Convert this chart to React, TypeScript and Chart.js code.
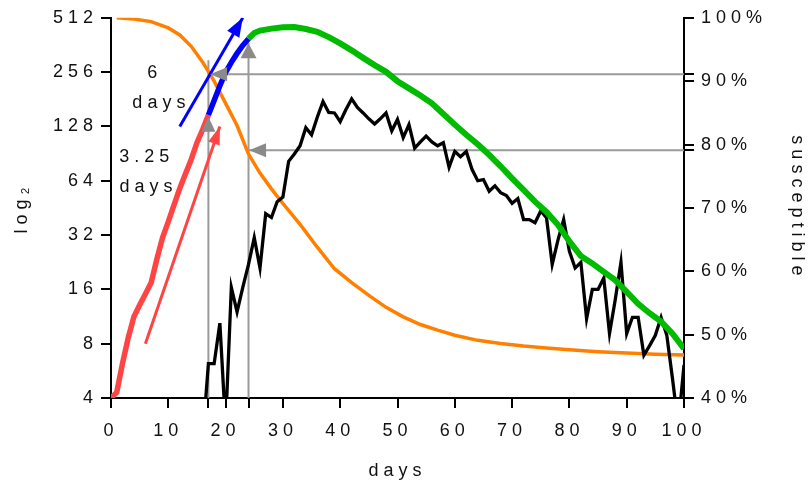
import React, { useEffect, useRef } from 'react';
import { Chart, registerables } from 'chart.js';

Chart.register(...registerables);

// ---- axes ----
const xTickValues = [0, 10, 20, 30, 40, 50, 60, 70, 80, 90, 100];
const markerDays = [17, 24];
const leftTickValues = [4, 8, 16, 32, 64, 128, 256, 512];
const rightTickValues = [40, 50, 60, 70, 80, 90, 100];
const markerSusceptible = [91.1, 79.1];

// ---- cases (log2 axis) ----
const redDays = [0, 1, 2, 3, 4, 5, 6, 7, 8, 9, 10, 11, 12, 13, 14, 15, 16, 17];
const redValues = [4, 4.3, 6.2, 8.6, 11.3, 13.1, 15.1, 17.4, 23.5, 31, 38, 47, 58, 70, 84, 104, 123, 148];

const blueDays = [17, 18, 19, 20, 21, 22, 23, 24];
const blueValues = [148, 178, 215, 255, 290, 325, 360, 392];

const greenDays = [24, 25, 26, 28, 30, 32, 34, 36, 38, 40, 42, 44, 46, 48, 50, 52, 54, 56, 58, 60, 62, 64, 66, 68, 70, 72, 74, 76, 78, 80, 82, 84, 86, 88, 90, 92, 94, 96, 98, 100];
const greenValues = [392, 422, 435, 446, 454, 455, 444, 428, 400, 369, 338, 307, 280, 257, 228, 208, 190, 172, 150, 131, 115, 102, 89, 77, 66, 57, 49, 43, 36.5, 29.5, 24.5, 22.3, 20, 18, 15.5, 13.3, 11.8, 10.6, 9.1, 7.5];

const blackDays = [16, 17, 18, 19, 20, 21, 22, 23, 24, 25, 26, 27, 28, 29, 30, 31, 32, 33, 34, 35, 36, 37, 38, 39, 40, 41, 42, 43, 44, 45, 46, 47, 48, 49, 50, 51, 52, 53, 54, 55, 56, 57, 58, 59, 60, 61, 62, 63, 64, 65, 66, 67, 68, 69, 70, 71, 72, 73, 74, 75, 76, 77, 78, 79, 80, 81, 82, 83, 84, 85, 86, 87, 88, 89, 90, 91, 92, 93, 94, 95, 96, 97, 98, 99, 100];
const blackValues = [2.4, 6.2, 6.2, 10.4, 2.8, 16.4, 12, 16.4, 22, 31, 21, 42, 40, 49, 52, 82, 90, 100, 126, 115, 144, 176, 153, 152, 136, 159, 182, 163, 152, 141, 132, 141, 152, 121, 140, 111, 131, 97, 105, 113, 105, 100, 104, 76, 93, 87, 93, 74, 64, 65, 56, 60, 55, 53, 48, 51, 39, 39, 37.5, 43.5, 40, 22, 30, 39, 26, 21, 22.6, 11, 16, 16, 18.5, 9.1, 14, 22.6, 9.1, 11.2, 11.2, 6.9, 7.8, 8.9, 11.2, 8.9, 5.1, 2.8, 6.1];

// ---- susceptible (percent axis) ----
const orangeDays = [1, 4, 7, 10, 12, 14, 16, 18, 20, 22, 24, 26, 28, 30, 33, 36, 39, 42, 45, 48, 51, 54, 57, 60, 64, 68, 72, 76, 80, 85, 90, 95, 100];
const orangeValues = [100, 99.8, 99.4, 98.4, 97.3, 95.5, 93, 90, 86.5, 83, 78.5, 75.5, 73, 70.7, 67.4, 63.8, 60.4, 58.2, 56.2, 54.3, 52.8, 51.6, 50.7, 49.9, 49.1, 48.6, 48.2, 47.9, 47.6, 47.3, 47.1, 46.9, 46.8];

// ---- doubling-time arrows ----
const redArrowDays = [6, 19];
const redArrowValues = [8, 128];
const blueArrowDays = [12, 23];
const blueArrowValues = [128, 512];

// ---- gray guide lines ----
const grayVerticalTops = [298, 370];
const grayUpTips = [145, 370];
const grayLeftTips = [17.3, 24.1];

// ---- annotation labels ----
const noteTexts = ['6', 'days', '3.25', 'days'];
const noteDays = [6.33, 3.73, 1.43, 1.47];
const noteValues = [237, 162, 81.6, 55.7];

const RED = '#ff4444';
const BLUE = '#0000ff';
const GREEN = '#00bb00';
const ORANGE = '#ff8000';
const GRAY_LINE = '#9a9a9a';
const GRAY_HEAD = '#8a8a8a';
const TEXT = '#111111';
const FONT = "'Liberation Sans', Arial, sans-serif";
const SPACING = '5px';

const pts = (xs: number[], ys: number[]) => xs.map((x, i) => ({ x, y: ys[i] }));

const arrowHeads = [
  { from: [redArrowDays[0], redArrowValues[0]], to: [redArrowDays[1], redArrowValues[1]], axis: 'y', color: RED, len: 18, half: 6 },
  { from: [blueArrowDays[0], blueArrowValues[0]], to: [blueArrowDays[1], blueArrowValues[1]], axis: 'y', color: BLUE, len: 19, half: 7 },
  { from: [markerDays[0], 4], to: [markerDays[0], grayUpTips[0]], axis: 'y', color: GRAY_HEAD, len: 15, half: 7 },
  { from: [markerDays[1], 4], to: [markerDays[1], grayUpTips[1]], axis: 'y', color: GRAY_HEAD, len: 15, half: 8 },
  { from: [100, markerSusceptible[0]], to: [grayLeftTips[0], markerSusceptible[0]], axis: 'y1', color: GRAY_HEAD, len: 17, half: 7 },
  { from: [100, markerSusceptible[1]], to: [grayLeftTips[1], markerSusceptible[1]], axis: 'y1', color: GRAY_HEAD, len: 17, half: 7 },
];

const spacingPlugin = {
  id: 'spacing',
  beforeLayout(chart: any) { (chart.ctx as any).letterSpacing = SPACING; },
  beforeDraw(chart: any) { (chart.ctx as any).letterSpacing = SPACING; },
};

const arrowPlugin = {
  id: 'arrowHeads',
  afterDatasetsDraw(chart: any) {
    const ctx = chart.ctx;
    const xs = chart.scales.x;
    ctx.save();
    for (const a of arrowHeads) {
      const ys = chart.scales[a.axis];
      const tx = xs.getPixelForValue(a.to[0]);
      const ty = ys.getPixelForValue(a.to[1]);
      const fx = xs.getPixelForValue(a.from[0]);
      const fy = ys.getPixelForValue(a.from[1]);
      const ang = Math.atan2(ty - fy, tx - fx);
      const bx = tx - Math.cos(ang) * a.len;
      const by = ty - Math.sin(ang) * a.len;
      const px = -Math.sin(ang) * a.half;
      const py = Math.cos(ang) * a.half;
      ctx.beginPath();
      ctx.moveTo(tx, ty);
      ctx.lineTo(bx + px, by + py);
      ctx.lineTo(bx - px, by - py);
      ctx.closePath();
      ctx.fillStyle = a.color;
      ctx.fill();
    }
    ctx.restore();
  },
  afterDraw(chart: any) {
    const ctx = chart.ctx;
    const xs = chart.scales.x;
    const ys = chart.scales.y;
    ctx.save();
    (ctx as any).letterSpacing = SPACING;
    ctx.font = `18px ${FONT}`;
    ctx.fillStyle = TEXT;
    ctx.textAlign = 'left';
    ctx.textBaseline = 'alphabetic';
    noteTexts.forEach((t, i) => {
      ctx.fillText(t, xs.getPixelForValue(noteDays[i]), ys.getPixelForValue(noteValues[i]));
    });
    ctx.restore();
  },
};

const line = (data: any[], color: string, width: number, axis: string, order: number) => ({
  data,
  borderColor: color,
  backgroundColor: color,
  borderWidth: width,
  pointRadius: 0,
  pointHoverRadius: 0,
  tension: 0,
  fill: false,
  yAxisID: axis,
  order,
});

const axisGrid = { drawOnChartArea: false, drawTicks: true, tickLength: 10, color: '#000', lineWidth: 2 };
const axisBorder = { display: true, color: '#000', width: 2 };

export default function App() {
  const ref = useRef<HTMLCanvasElement>(null);
  useEffect(() => {
    document.body.style.margin = '0';
    Chart.defaults.font.family = FONT;
    Chart.defaults.font.size = 18;
    Chart.defaults.color = TEXT;
    const chart = new Chart(ref.current as HTMLCanvasElement, {
      type: 'line',
      data: {
        datasets: [
          line(pts([markerDays[0], markerDays[0]], [4, grayVerticalTops[0]]), GRAY_LINE, 2, 'y', 20),
          line(pts([markerDays[1], markerDays[1]], [4, grayVerticalTops[1]]), GRAY_LINE, 2, 'y', 20),
          line(pts([grayLeftTips[0], 100], [markerSusceptible[0], markerSusceptible[0]]), GRAY_LINE, 2, 'y1', 20),
          line(pts([grayLeftTips[1], 100], [markerSusceptible[1], markerSusceptible[1]]), GRAY_LINE, 2, 'y1', 20),
          line(pts(orangeDays, orangeValues), ORANGE, 3.5, 'y1', 10),
          line(pts(blackDays, blackValues), '#000', 3.3, 'y', 9),
          line(pts(greenDays, greenValues), GREEN, 6, 'y', 8),
          line(pts(redDays, redValues), RED, 5.5, 'y', 7),
          line(pts(blueDays, blueValues), BLUE, 5.5, 'y', 6),
          line(pts(redArrowDays, redArrowValues), RED, 3, 'y', 5),
          line(pts(blueArrowDays, blueArrowValues), BLUE, 3, 'y', 5),
        ] as any,
      },
      options: {
        responsive: false,
        animation: false,
        devicePixelRatio: 1,
        layout: { padding: { top: 14, left: 0, right: 0, bottom: 0 } },
        plugins: { legend: { display: false }, tooltip: { enabled: false } },
        events: [],
        scales: {
          x: {
            type: 'linear',
            min: 0,
            max: 100,
            grid: axisGrid,
            border: axisBorder,
            afterBuildTicks: (s: any) => {
              s.ticks = [...xTickValues, ...markerDays].sort((a, b) => a - b).map((v) => ({ value: v }));
            },
            afterFit: (s: any) => { s.height = 85; },
            ticks: {
              autoSkip: false,
              maxRotation: 0,
              padding: 12,
              callback: (v: any) => (xTickValues.includes(v) ? String(v) : ''),
            },
            title: { display: true, text: 'days', padding: { top: 0, bottom: 1 } },
          },
          y: {
            type: 'logarithmic',
            position: 'left',
            min: 4,
            max: 512,
            grid: axisGrid,
            border: axisBorder,
            afterBuildTicks: (s: any) => {
              s.ticks = leftTickValues.map((v) => ({ value: v }));
            },
            afterFit: (s: any) => { s.width = 111; },
            ticks: { autoSkip: false, padding: 3, callback: (v: any) => String(v) },
            title: { display: true, text: 'log₂', padding: { top: 11, bottom: 0 } },
          },
          y1: {
            type: 'linear',
            position: 'right',
            min: 40,
            max: 100,
            grid: axisGrid,
            border: axisBorder,
            afterBuildTicks: (s: any) => {
              s.ticks = [...rightTickValues, ...markerSusceptible].sort((a, b) => a - b).map((v) => ({ value: v }));
            },
            afterFit: (s: any) => { s.width = 125; },
            ticks: {
              autoSkip: false,
              padding: 7,
              callback: (v: any) => (rightTickValues.includes(v) ? `${v}%` : ''),
            },
            title: { display: true, text: 'susceptible', padding: { top: 1, bottom: 0 } },
          },
        },
      } as any,
      plugins: [spacingPlugin, arrowPlugin],
    });
    return () => chart.destroy();
  }, []);
  return (
    <div style={{ width: 809, height: 483 }}>
      <canvas ref={ref} width={809} height={483} style={{ display: 'block' }} />
    </div>
  );
}
